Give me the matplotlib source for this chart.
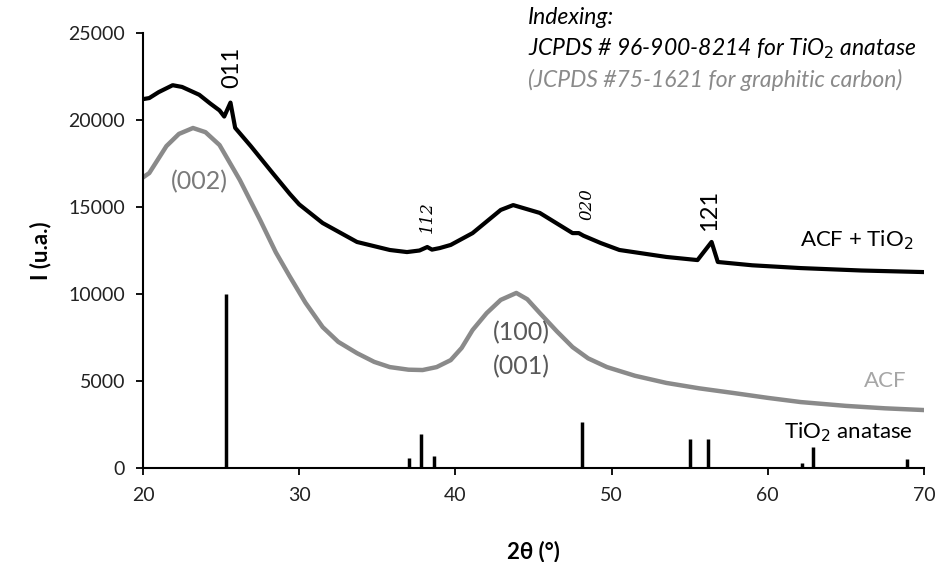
import matplotlib
matplotlib.use("Agg")
import matplotlib.pyplot as plt

# ACF + TiO2 pattern (2theta, intensity)
tio2_acf_x = [20, 20.4, 21, 21.9, 22.5, 23.6, 24.3, 24.9, 25.2, 25.6, 25.9, 26.9, 28.3, 29.4, 30,
              31.5, 33.7, 35.8, 36.9, 37.7, 38.2, 38.5, 39, 39.7, 41.1, 42.9, 43.7, 45.4, 47.5,
              47.9, 48.2, 49.3, 50.5, 53.5, 55.5, 56.4, 56.8, 59, 62.1, 66, 70]
tio2_acf_y = [21200, 21260, 21600, 22000, 21900, 21450, 20950, 20550, 20200, 21000, 19550, 18500,
              16950, 15750, 15150, 14080, 12990, 12530, 12410, 12500, 12700, 12550, 12640, 12820,
              13500, 14830, 15110, 14660, 13500, 13500, 13350, 12930, 12530, 12130, 11950, 12990,
              11840, 11650, 11490, 11350, 11260]

# ACF pattern
acf_x = [20, 20.4, 21.5, 22.3, 23.2, 24, 24.9, 26.2, 27.5, 28.5, 29.4, 30.4, 31.5, 32.5, 33.7, 34.8,
         35.8, 37, 37.9, 38.8, 39.7, 40.4, 41.1, 42, 42.9, 43.9, 44.6, 45.4, 46.5, 47.5, 48.5, 49.7,
         51.5, 53.5, 55.6, 57.8, 60, 62.1, 65, 67.5, 70]
acf_y = [16700, 16950, 18500, 19200, 19540, 19300, 18560, 16550, 14250, 12400, 11000, 9500, 8100,
         7250, 6600, 6100, 5800, 5650, 5630, 5800, 6200, 6900, 7930, 8900, 9660, 10060, 9700, 8910,
         7850, 6950, 6300, 5800, 5300, 4890, 4580, 4310, 4030, 3790, 3570, 3430, 3330]

# TiO2 anatase reference lines
ref_pos = [25.3, 37.0, 37.8, 38.6, 48.1, 55.0, 56.2, 62.2, 62.9, 68.9]
ref_int = [10000, 580, 1950, 680, 2650, 1650, 1650, 290, 1200, 500]

x_ticks = [20, 30, 40, 50, 60, 70]
y_ticks = [0, 5000, 10000, 15000, 20000, 25000]

plt.rcParams['font.family'] = ['Lato', 'DejaVu Sans']

fig = plt.figure(figsize=(9.41, 5.62), dpi=100)
ax = fig.add_axes([143/941, 1-468/562, (924-143)/941, (468-33)/562])

ax.plot(tio2_acf_x, tio2_acf_y, color='black', lw=3, solid_joinstyle='round')
ax.plot(acf_x, acf_y, color='#8a8a8a', lw=3.2, solid_joinstyle='round')
ax.vlines(ref_pos, 0, ref_int, color='black', lw=2.5)

ax.set_xlim(20, 70)
ax.set_ylim(0, 25000)
ax.set_xticks(x_ticks)
ax.set_yticks(y_ticks)
ax.tick_params(axis='both', labelsize=14, length=5, width=1.3, color='black', labelcolor='#222222')
ax.tick_params(axis='x', pad=9)
ax.tick_params(axis='y', pad=8)
for s in ['top', 'right']:
    ax.spines[s].set_visible(False)
for s in ['left', 'bottom']:
    ax.spines[s].set_linewidth(1.5)

ax.set_xlabel('2θ (°)', fontsize=16, fontweight='bold', labelpad=26)
ax.set_ylabel('I (u.a.)', fontsize=16, fontweight='bold', labelpad=12)

# Peak labels
ax.text(25.7, 23050, '011', rotation=90, ha='center', va='center', fontsize=17, color='black')
ax.text(56.3, 14830, '121', rotation=90, ha='center', va='center', fontsize=17, color='black')
ax.text(38.2, 14430, '112', rotation=90, ha='center', va='center', fontsize=12, color='black',
        family='DejaVu Serif', style='italic')
ax.text(48.4, 15170, '020', rotation=90, ha='center', va='center', fontsize=12, color='black',
        family='DejaVu Serif', style='italic')

ax.text(23.6, 16440, '(002)', ha='center', va='center', fontsize=18, color='#7a7a7a')
ax.text(44.2, 7800, '(100)', ha='center', va='center', fontsize=18, color='#595959')
ax.text(44.2, 5800, '(001)', ha='center', va='center', fontsize=18, color='#595959')

ax.text(69.3, 13100, 'ACF + TiO$_2$', ha='right', va='center', fontsize=16, color='black')
ax.text(68.9, 5000, 'ACF', ha='right', va='center', fontsize=16, color='#a6a6a6')
ax.text(69.3, 2070, 'TiO$_2$ anatase', ha='right', va='center', fontsize=16, color='black')

fig.text(528/941, 1-17/562, 'Indexing:', ha='left', va='center', fontsize=16.5, style='italic', color='black')
fig.text(528/941, 1-49/562, 'JCPDS # 96-900-8214 for TiO$_2$ anatase', ha='left', va='center',
         fontsize=16.5, style='italic', color='black')
fig.text(528/941, 1-80/562, '(JCPDS #75-1621 for graphitic carbon)', ha='left', va='center',
         fontsize=16.5, style='italic', color='#8a8a8a')

fig.savefig('out.png', dpi=100)
